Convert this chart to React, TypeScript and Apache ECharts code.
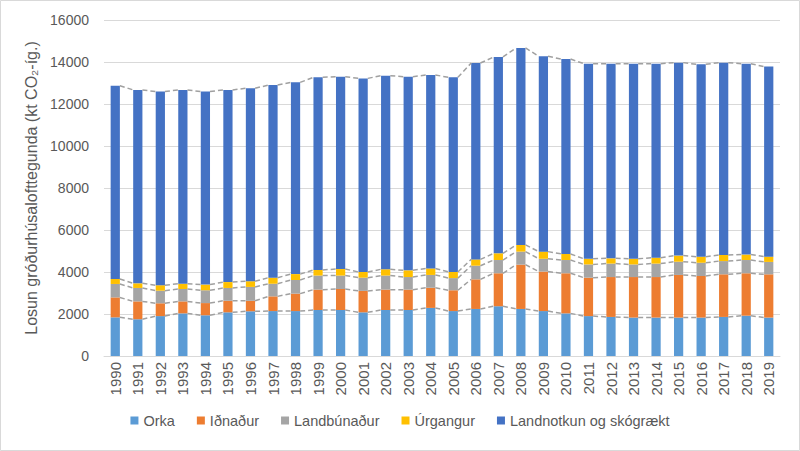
import React, { useEffect, useRef } from "react";
import * as echarts from "echarts";

const years = ["1990","1991","1992","1993","1994","1995","1996","1997","1998","1999","2000","2001","2002","2003","2004","2005","2006","2007","2008","2009","2010","2011","2012","2013","2014","2015","2016","2017","2018","2019"];

const orka = [1840,1750,1900,2030,1940,2080,2130,2140,2140,2190,2190,2080,2190,2190,2290,2140,2240,2370,2240,2140,2030,1900,1860,1830,1830,1830,1830,1860,1920,1830];
const idnadur = [950,850,610,570,580,550,500,700,830,970,1000,1020,970,970,960,990,1410,1570,2110,1880,1910,1830,1900,1930,1930,2030,1980,2030,2020,2060];
const landbunadur = [640,640,600,590,610,610,660,600,650,670,640,630,670,600,610,580,650,630,620,610,630,630,640,600,640,630,630,630,630,590];
const urgangur = [240,220,260,250,270,280,270,290,280,270,310,270,300,320,310,290,300,320,320,340,290,270,250,270,280,290,290,290,260,250];
const landnotkun = [9200,9210,9220,9230,9190,9150,9190,9170,9130,9170,9160,9220,9220,9220,9210,9270,9350,9350,9380,9300,9280,9290,9270,9290,9240,9190,9160,9160,9090,9050];

const seriesNames = ["Orka", "Iðnaður", "Landbúnaður", "Úrgangur", "Landnotkun og skógrækt"];
const seriesValues = [orka, idnadur, landbunadur, urgangur, landnotkun];
const colors = ["#5B9BD5", "#ED7D31", "#A5A5A5", "#FFC000", "#4472C4"];

const yTicks = { min: 0, max: 16000, interval: 2000 };

const BAR_FRAC = 0.41;
const FONT = "'Liberation Sans', Arial, sans-serif";
const TEXT_COLOR = "#595959";

export default function App() {
  const ref = useRef<HTMLDivElement>(null);

  useEffect(() => {
    if (!ref.current) return;
    const chart = echarts.init(ref.current, undefined, { renderer: "svg" });

    const cumulative: number[][] = [];
    seriesValues.forEach((vals, k) => {
      cumulative.push(vals.map((v, i) => (k === 0 ? v : cumulative[k - 1][i] + v)));
    });

    const lineData = years.slice(0, -1).map((_, i) => [i, cumulative[4][i]]);

    const option: any = {
      animation: false,
      textStyle: { fontFamily: FONT },
      grid: { left: 104, right: 20, top: 20, bottom: 95, containLabel: false },
      graphic: [
        {
          type: "rect",
          shape: { x: 0.5, y: 0.5, width: 799, height: 450 },
          style: { fill: "none", stroke: "#d9d9d9", lineWidth: 1 },
          silent: true,
        },
      ],
      legend: {
        data: seriesNames,
        bottom: 18,
        left: "center",
        icon: "rect",
        itemWidth: 8,
        itemHeight: 8,
        itemGap: 22,
        textStyle: { color: TEXT_COLOR, fontSize: 14.5, fontFamily: FONT },
      },
      xAxis: {
        type: "category",
        data: years,
        axisLine: { show: true, lineStyle: { color: "#d9d9d9", width: 1 } },
        axisTick: { show: false },
        axisLabel: {
          rotate: 90,
          color: TEXT_COLOR,
          fontSize: 15,
          fontFamily: FONT,
          margin: 6,
          interval: 0,
        },
      },
      yAxis: {
        type: "value",
        min: yTicks.min,
        max: yTicks.max,
        interval: yTicks.interval,
        name: "Losun gróðurhúsalofttegunda (kt CO₂-íg.)",
        nameLocation: "middle",
        nameGap: 62,
        nameTextStyle: { color: TEXT_COLOR, fontSize: 16, fontFamily: FONT },
        axisLine: { show: false },
        axisTick: { show: false },
        axisLabel: {
          color: TEXT_COLOR,
          fontSize: 14,
          fontFamily: FONT,
          margin: 15,
          formatter: (v: number) => String(v),
        },
        splitLine: { lineStyle: { color: "#d9d9d9", width: 1 } },
      },
      series: [
        ...seriesNames.map((name, k) => ({
          name,
          type: "bar",
          stack: "total",
          barWidth: `${BAR_FRAC * 100}%`,
          itemStyle: { color: colors[k] },
          data: seriesValues[k],
        })),
        {
          type: "custom",
          name: "serieslines",
          data: lineData,
          z: 5,
          silent: true,
          renderItem: (params: any, api: any) => {
            const i = api.value(0);
            const half = (api.size([1, 0])[0] * BAR_FRAC) / 2;
            const children = cumulative.map((cum) => {
              const p1 = api.coord([i, cum[i]]);
              const p2 = api.coord([i + 1, cum[i + 1]]);
              return {
                type: "line",
                shape: { x1: p1[0] + half, y1: p1[1], x2: p2[0] - half, y2: p2[1] },
                style: { stroke: "#a0a0a0", lineWidth: 1.5, lineDash: [5, 3] },
              };
            });
            return { type: "group", children };
          },
        },
      ],
    };

    chart.setOption(option);
    return () => chart.dispose();
  }, []);

  return (
    <div
      ref={ref}
      style={{ position: "fixed", left: 0, top: 0, width: 800, height: 451, background: "#fff" }}
    />
  );
}
